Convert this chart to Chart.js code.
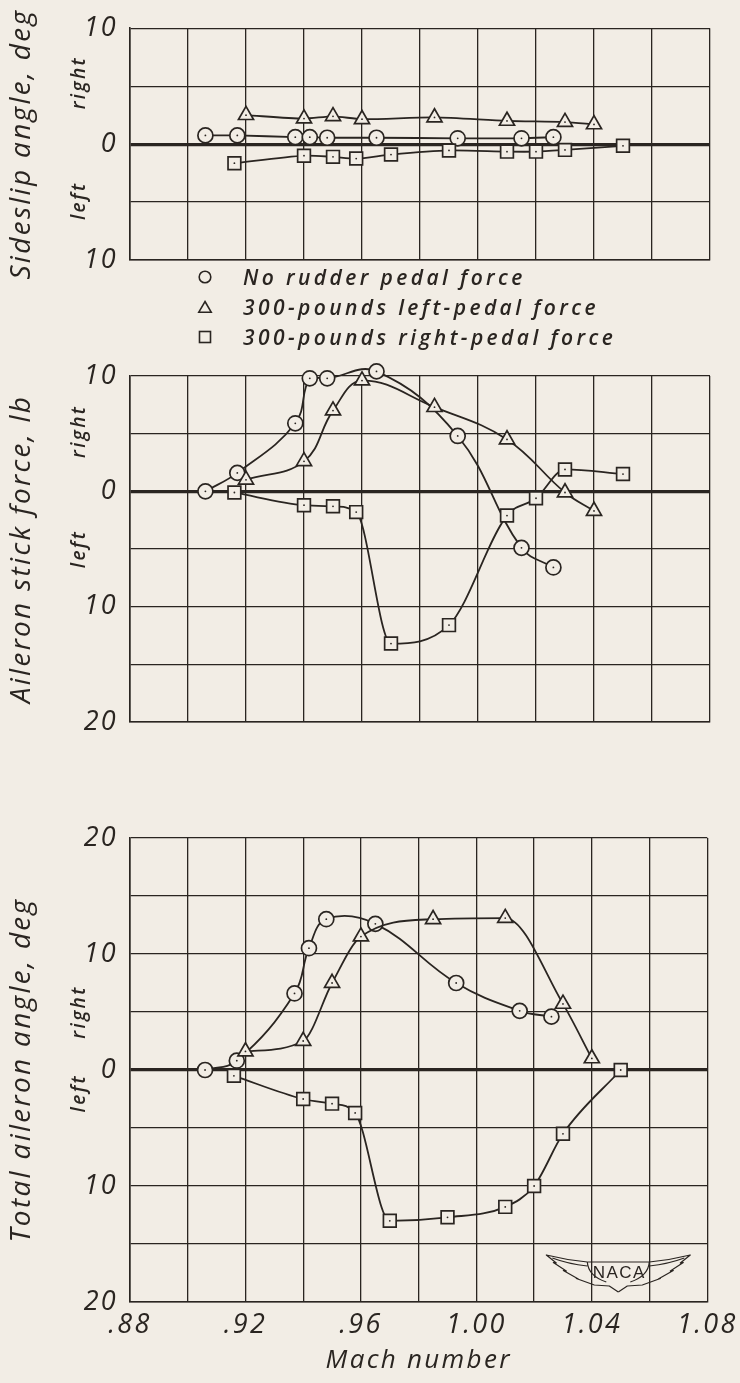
<!DOCTYPE html>
<html>
<head>
<meta charset="utf-8">
<script src="https://cdn.jsdelivr.net/npm/chart.js@4.4.0/dist/chart.umd.min.js"></script>
<style>
  html, body { margin: 0; padding: 0; background: #f2ede5; }
  body { width: 740px; height: 1383px; position: relative; overflow: hidden; font-family: "Open Sans", sans-serif; }
  canvas { position: absolute; left: 0; }
  .leg { position: absolute; left: 197px; height: 30px; display: flex; align-items: center;
         color: #2a2521; font-style: italic; font-weight: 600; font-size: 21px; letter-spacing: 3.4px; white-space: nowrap; }
  .leg svg { margin-right: 30px; flex: none; }
</style>
</head>
<body>
<canvas id="sideslip" width="740" height="300" style="top:0px;width:740px;height:300px"></canvas>
<canvas id="stick" width="740" height="420" style="top:340px;width:740px;height:420px"></canvas>
<canvas id="aileron" width="740" height="583" style="top:800px;width:740px;height:583px"></canvas>

<div class="leg" style="top:262px">
  <svg width="16" height="16"><circle cx="8" cy="8" r="5.8" fill="none" stroke="#2a2521" stroke-width="1.6"/></svg>
  <span>No rudder pedal force</span>
</div>
<div class="leg" style="top:292px">
  <svg width="16" height="16"><polygon points="8,2.5 14.2,13.2 1.8,13.2" fill="none" stroke="#2a2521" stroke-width="1.6"/></svg>
  <span>300-pounds left-pedal force</span>
</div>
<div class="leg" style="top:322px">
  <svg width="16" height="16"><rect x="2.5" y="2.5" width="11" height="11" fill="none" stroke="#2a2521" stroke-width="1.6"/></svg>
  <span>300-pounds right-pedal force</span>
</div>

<script>
const BG = '#f2ede5';
const INK = '#2a2521';

// Mach number of each test point
const machNoPedal = [0.906, 0.917, 0.937, 0.942, 0.948, 0.965, 0.993, 1.015, 1.026];
const machLeftPedal = [0.920, 0.940, 0.950, 0.960, 0.985, 1.010, 1.030, 1.040];
const machRightPedal = [0.916, 0.940, 0.950, 0.958, 0.970, 0.990, 1.010, 1.020, 1.030, 1.050];

// Sideslip angle, deg (positive = right)
const sideslipNoPedal = [0.75, 0.75, 0.6, 0.6, 0.55, 0.55, 0.5, 0.5, 0.6];
const sideslipLeftPedal = [2.5, 2.2, 2.4, 2.15, 2.3, 2.0, 1.9, 1.7];
const sideslipRightPedal = [-1.65, -1.0, -1.1, -1.25, -0.9, -0.55, -0.65, -0.65, -0.5, -0.15];

// Aileron stick force, lb (positive = right)
const stickNoPedal = [0, 1.6, 5.9, 9.8, 9.8, 10.4, 4.8, -4.9, -6.6];
const stickLeftPedal = [1.0, 2.6, 7.0, 9.6, 7.3, 4.5, -0.1, -1.7];
const stickRightPedal = [-0.1, -1.2, -1.3, -1.8, -13.2, -11.6, -2.1, -0.6, 1.9, 1.5];

// Total aileron angle, deg (positive = right)
const aileronNoPedal = [0, 0.8, 6.6, 10.5, 13.0, 12.6, 7.5, 5.1, 4.6];
const aileronLeftPedal = [1.6, 2.5, 7.5, 11.5, 13.0, 13.1, 5.7, 1.0];
const aileronRightPedal = [-0.5, -2.5, -2.9, -3.7, -13.0, -12.7, -11.8, -10.0, -5.5, 0];

// Tick labels, listed from the lowest tick to the highest
const machTickLabels = ['.88', '', '.92', '', '.96', '', '1.00', '', '1.04', '', '1.08'];
const sideslipTickLabels = ['10', '', '0', '', '10'];
const stickTickLabels = ['20', '', '10', '', '0', '', '10'];
const aileronTickLabels = ['20', '', '10', '', '0', '', '10', '', '20'];

Chart.defaults.font.family = '"Open Sans", sans-serif';
Chart.defaults.color = INK;

const tickFont = { family: '"Open Sans", sans-serif', style: 'italic', size: 27 };
const titleFont = { family: '"Open Sans", sans-serif', style: 'italic', weight: 500, size: 28 };

// wide, hand-lettered spacing for all chart text
const lettering = {
  id: 'lettering',
  beforeDraw(chart) { chart.ctx.letterSpacing = '2.3px'; }
};

// small dot in the middle of each symbol
const pointDots = {
  id: 'pointDots',
  afterDatasetsDraw(chart) {
    const ctx = chart.ctx;
    ctx.save();
    ctx.fillStyle = INK;
    chart.data.datasets.forEach((ds, i) => {
      chart.getDatasetMeta(i).data.forEach(p => {
        ctx.beginPath();
        ctx.arc(p.x, p.y, 0.9, 0, Math.PI * 2);
        ctx.fill();
      });
    });
    ctx.restore();
  }
};

// "right" / "left" sense labels beside the value axis
const senseLabels = {
  id: 'senseLabels',
  afterDraw(chart, args, opts) {
    const ctx = chart.ctx, y = chart.scales.y;
    ctx.save();
    ctx.font = 'italic 600 19px "Open Sans", sans-serif';
    ctx.letterSpacing = '2.4px';
    ctx.fillStyle = INK;
    ctx.textAlign = 'center';
    ctx.textBaseline = 'middle';
    [['right', opts.right], ['left', opts.left]].forEach(([text, v]) => {
      ctx.save();
      ctx.translate(80, y.getPixelForValue(v));
      ctx.rotate(-Math.PI / 2);
      ctx.fillText(text, 0, 0);
      ctx.restore();
    });
    ctx.restore();
  }
};

// winged NACA emblem in the lower right corner of the plot
const nacaLogo = {
  id: 'nacaLogo',
  afterDraw(chart) {
    const { ctx, chartArea: a } = chart;
    ctx.save();
    ctx.translate(a.right - 89, a.bottom - 30);
    ctx.strokeStyle = INK;
    ctx.lineWidth = 1.2;
    ctx.lineJoin = 'round';
    const wing = s => {
      ctx.beginPath();
      ctx.moveTo(s * 31, -10);
      ctx.quadraticCurveTo(s * 52, -12, s * 72, -17);
      ctx.lineTo(s * 62, -9);
      ctx.lineTo(s * 65, -9.5);
      ctx.lineTo(s * 52, -1);
      ctx.lineTo(s * 55, -1.5);
      ctx.lineTo(s * 40, 7);
      ctx.lineTo(s * 42, 6.5);
      ctx.lineTo(s * 24, 13);
      ctx.lineTo(s * 9, 14);
      ctx.lineTo(0, 20);
      ctx.stroke();
      ctx.beginPath();
      ctx.moveTo(s * 66, -14);
      ctx.quadraticCurveTo(s * 50, -8, s * 31, -6);
      ctx.moveTo(s * 31, -10);
      ctx.quadraticCurveTo(s * 30, 4, s * 12, 10);
      ctx.stroke();
    };
    wing(1);
    wing(-1);
    ctx.beginPath();
    ctx.moveTo(-31, -10);
    ctx.lineTo(31, -10);
    ctx.stroke();
    ctx.font = '17px "Liberation Sans", sans-serif';
    ctx.letterSpacing = '1.5px';
    ctx.fillStyle = INK;
    ctx.textAlign = 'center';
    ctx.textBaseline = 'middle';
    ctx.fillText('NACA', 1, 1);
    ctx.restore();
  }
};

function series(xs, ys, style, radius, tension, mode) {
  return {
    data: xs.map((x, i) => ({ x, y: ys[i] })),
    showLine: true,
    borderColor: INK,
    borderWidth: 1.8,
    tension,
    cubicInterpolationMode: mode,
    pointStyle: style,
    pointRadius: radius,
    pointHoverRadius: radius,
    pointBorderWidth: 1.7,
    pointBorderColor: INK,
    pointBackgroundColor: BG,
    clip: false
  };
}

function panel(id, cfg) {
  const plugins = [lettering, pointDots, senseLabels];
  if (cfg.logo) plugins.push(nacaLogo);
  return new Chart(document.getElementById(id), {
    type: 'scatter',
    data: {
      datasets: [
        series(machRightPedal, cfg.right, 'rect', 9, cfg.tension, cfg.modes[2]),
        series(machLeftPedal, cfg.left, 'triangle', 8.7, cfg.tension, cfg.modes[1]),
        series(machNoPedal, cfg.none, 'circle', 7.5, cfg.tension, cfg.modes[0])
      ]
    },
    plugins,
    options: {
      responsive: false,
      maintainAspectRatio: false,
      animation: false,
      devicePixelRatio: 1,
      events: [],
      layout: { padding: { top: cfg.padTop, bottom: cfg.padBottom, left: 0, right: 30 } },
      plugins: {
        legend: { display: false },
        tooltip: { enabled: false },
        senseLabels: cfg.sense
      },
      scales: {
        x: {
          type: 'linear',
          min: 0.88,
          max: 1.08,
          ticks: {
            display: cfg.xLabels,
            stepSize: 0.02,
            autoSkip: false,
            maxRotation: 0,
            padding: 7,
            font: tickFont,
            color: INK,
            callback: (v, i) => machTickLabels[i]
          },
          grid: { color: INK, lineWidth: 1.3, drawTicks: false },
          border: { color: INK, width: 1.6 },
          title: {
            display: cfg.xLabels,
            text: 'Mach number',
            font: { family: '"Open Sans", sans-serif', style: 'italic', weight: 500, size: 26 },
            color: INK,
            padding: { top: 0, bottom: 7 }
          },
          afterFit: s => { s.height = cfg.xHeight; }
        },
        y: {
          min: cfg.min,
          max: cfg.max,
          ticks: {
            stepSize: 5,
            autoSkip: false,
            padding: 12,
            font: tickFont,
            color: INK,
            callback: (v, i) => cfg.tickLabels[i]
          },
          grid: {
            color: INK,
            lineWidth: c => (c.tick && c.tick.value === 0 ? 3.2 : 1.3),
            drawTicks: false
          },
          border: { color: INK, width: 1.6 },
          title: {
            display: true,
            text: cfg.title,
            font: titleFont,
            color: INK,
            padding: { top: 5, bottom: 0 }
          },
          afterFit: s => { s.width = 130; }
        }
      }
    }
  });
}

panel('sideslip', {
  title: 'Sideslip angle, deg',
  none: sideslipNoPedal, left: sideslipLeftPedal, right: sideslipRightPedal,
  min: -10, max: 10, tickLabels: sideslipTickLabels,
  padTop: 28, padBottom: 40, xHeight: 0, xLabels: false, tension: 0.25,
  modes: ['default', 'default', 'default'],
  sense: { right: 5.3, left: -4.9 }
});

panel('stick', {
  title: 'Aileron stick force, lb',
  none: stickNoPedal, left: stickLeftPedal, right: stickRightPedal,
  min: -20, max: 10, tickLabels: stickTickLabels,
  padTop: 36, padBottom: 38, xHeight: 0, xLabels: false, tension: 0.4,
  modes: ['default', 'default', 'monotone'],
  sense: { right: 5.2, left: -5 }
});

panel('aileron', {
  title: 'Total aileron angle, deg',
  none: aileronNoPedal, left: aileronLeftPedal, right: aileronRightPedal,
  min: -20, max: 20, tickLabels: aileronTickLabels,
  padTop: 38, padBottom: 0, xHeight: 81, xLabels: true, tension: 0.4,
  modes: ['default', 'monotone', 'monotone'],
  sense: { right: 5, left: -2 },
  logo: true
});
</script>
</body>
</html>
